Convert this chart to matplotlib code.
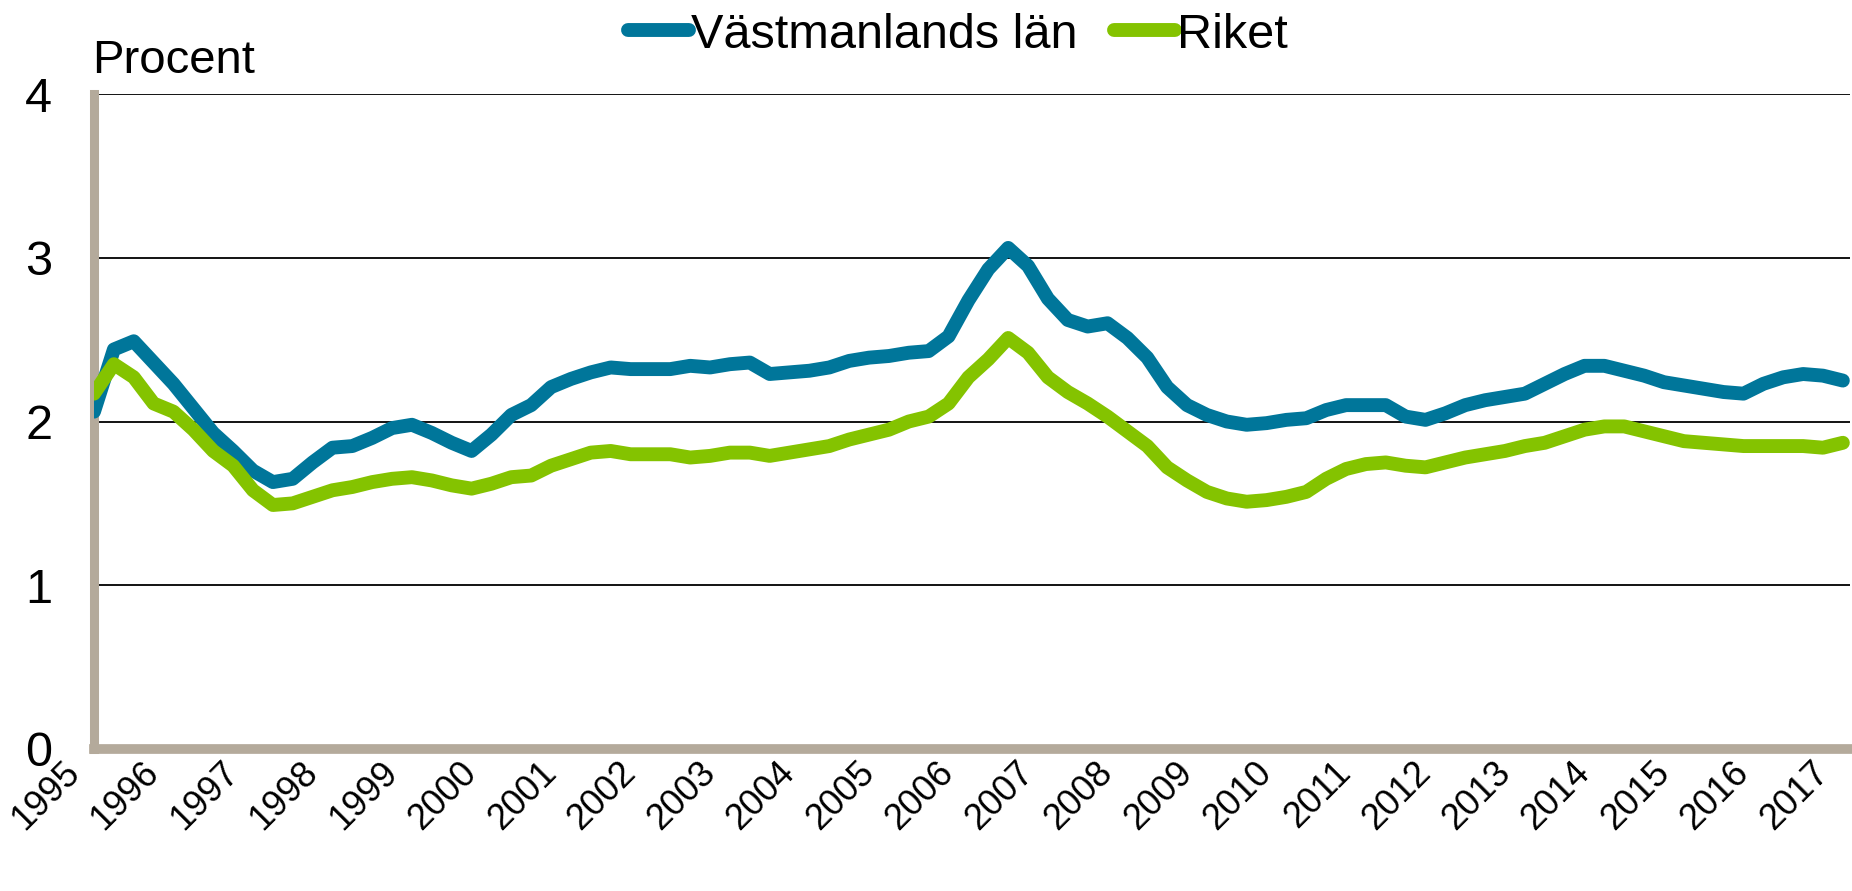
import numpy as np
import matplotlib
matplotlib.use("Agg")
import matplotlib.pyplot as plt
from matplotlib.transforms import ScaledTranslation

plt.rcParams['font.family'] = ['Liberation Sans', 'DejaVu Sans']

# quarterly values, 1995 Q1 .. 2017 Q1
quarter = np.arange(89)
vastmanland = [2.06, 2.44, 2.49, 2.36, 2.23, 2.08, 1.93, 1.82, 1.70, 1.63,
               1.65, 1.75, 1.84, 1.85, 1.90, 1.96, 1.98, 1.93, 1.87, 1.82,
               1.92, 2.04, 2.10, 2.21, 2.26, 2.30, 2.33, 2.32, 2.32, 2.32,
               2.34, 2.33, 2.35, 2.36, 2.29, 2.30, 2.31, 2.33, 2.37, 2.39,
               2.40, 2.42, 2.43, 2.52, 2.74, 2.93, 3.06, 2.95, 2.75, 2.62,
               2.58, 2.60, 2.51, 2.39, 2.21, 2.10, 2.04, 2.00, 1.98, 1.99,
               2.01, 2.02, 2.07, 2.10, 2.10, 2.10, 2.03, 2.01, 2.05, 2.10,
               2.13, 2.15, 2.17, 2.23, 2.29, 2.34, 2.34, 2.31, 2.28, 2.24,
               2.22, 2.20, 2.18, 2.17, 2.23, 2.27, 2.29, 2.28, 2.25]
riket = [2.17, 2.35, 2.27, 2.11, 2.06, 1.95, 1.82, 1.73, 1.58, 1.49,
         1.50, 1.54, 1.58, 1.60, 1.63, 1.65, 1.66, 1.64, 1.61, 1.59,
         1.62, 1.66, 1.67, 1.73, 1.77, 1.81, 1.82, 1.80, 1.80, 1.80,
         1.78, 1.79, 1.81, 1.81, 1.79, 1.81, 1.83, 1.85, 1.89, 1.92,
         1.95, 2.00, 2.03, 2.11, 2.27, 2.38, 2.51, 2.42, 2.27, 2.18,
         2.11, 2.03, 1.94, 1.85, 1.72, 1.64, 1.57, 1.53, 1.51, 1.52,
         1.54, 1.57, 1.65, 1.71, 1.74, 1.75, 1.73, 1.72, 1.75, 1.78,
         1.80, 1.82, 1.85, 1.87, 1.91, 1.95, 1.97, 1.97, 1.94, 1.91,
         1.88, 1.87, 1.86, 1.85, 1.85, 1.85, 1.85, 1.84, 1.87]
year_labels = [str(y) for y in range(1995, 2018)]
y_ticks = [0, 1, 2, 3, 4]

x = 1995 + quarter / 4

fig = plt.figure(figsize=(18.52, 8.91), dpi=100)
ax = fig.add_axes([94 / 1852, 1 - 749 / 891, 1756 / 1852, 655 / 891])

ax.plot(x, vastmanland, color="#00769a", lw=10, solid_capstyle="round",
        solid_joinstyle="round", label="Västmanlands län", zorder=3)
ax.plot(x, riket, color="#84c300", lw=10, solid_capstyle="round",
        solid_joinstyle="round", label="Riket", zorder=3)

ax.set_xlim(1995, 2017.09)
ax.set_ylim(0, 4)
ax.set_yticks(y_ticks)
ax.set_yticklabels([str(v) for v in y_ticks])
ax.set_xticks(range(1995, 2018))
ax.set_xticklabels(year_labels, rotation=45, ha="right", va="center",
                   rotation_mode="anchor")

# grid
for v in y_ticks[1:]:
    ax.axhline(v, color="#000000", lw=1.3, zorder=1)

for s in ["top", "right"]:
    ax.spines[s].set_visible(False)
ax.spines["left"].set_color("#b4aa9b")
ax.spines["left"].set_linewidth(6.5)
ax.spines["bottom"].set_color("#b4aa9b")
ax.spines["bottom"].set_linewidth(7)
ax.spines["bottom"].set_zorder(4)

ax.tick_params(axis="y", length=0, pad=30, labelsize=35)
ax.tick_params(axis="x", length=0, pad=13, labelsize=26)
shift = ScaledTranslation(-0.2, 0, fig.dpi_scale_trans)
for lab in ax.get_xticklabels():
    lab.set_transform(lab.get_transform() + shift)

fig.text(92 / 1852, 1 - 61 / 891, "Procent", fontsize=34, ha="left", va="center")

leg = fig.legend(loc="center", bbox_to_anchor=(958 / 1852, 1 - 35 / 891),
                 ncol=2, frameon=False, fontsize=35, handlelength=1.25,
                 handletextpad=0.05, columnspacing=0.75, borderpad=0)

fig.savefig("out.png", dpi=100)
